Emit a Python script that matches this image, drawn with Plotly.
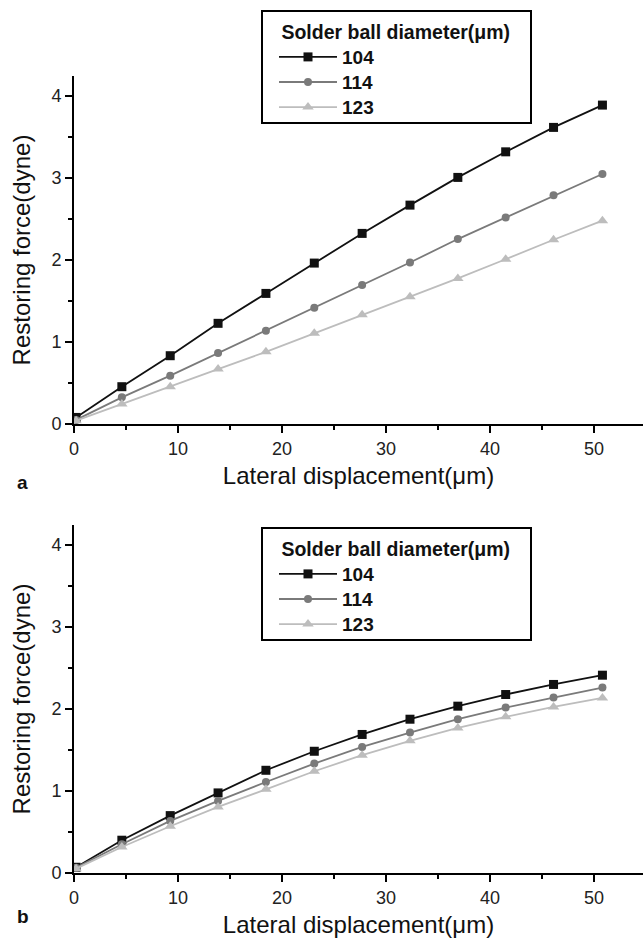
import plotly.graph_objects as go
from plotly.subplots import make_subplots

x_disp = [0.2, 4.6, 9.25, 13.85, 18.45, 23.1, 27.7, 32.3, 36.9, 41.5, 46.1, 50.8]
series_names = ["104", "114", "123"]

force_a_104 = [0.08, 0.455, 0.833, 1.228, 1.593, 1.963, 2.325, 2.67, 3.008, 3.32, 3.618, 3.89]
force_a_114 = [0.05, 0.325, 0.59, 0.866, 1.138, 1.419, 1.695, 1.97, 2.256, 2.52, 2.79, 3.05]
force_a_123 = [0.04, 0.245, 0.455, 0.67, 0.88, 1.106, 1.333, 1.553, 1.776, 2.01, 2.248, 2.48]

force_b_104 = [0.07, 0.40, 0.70, 0.977, 1.253, 1.485, 1.69, 1.876, 2.035, 2.177, 2.30, 2.413]
force_b_114 = [0.065, 0.35, 0.635, 0.879, 1.11, 1.335, 1.538, 1.713, 1.876, 2.018, 2.14, 2.262]
force_b_123 = [0.053, 0.317, 0.57, 0.806, 1.021, 1.241, 1.437, 1.612, 1.77, 1.905, 2.026, 2.136]

colors = ["#111111", "#7a7a7a", "#bdbdbd"]
symbols = ["square", "circle", "triangle-up"]
msizes = [9, 8, 10]

W, H = 643, 939
ML, MR, MT, MB = 74, 0, 76, 66
X_AXIS_A, X_AXIS_B, TOP_B = 424, 873, 525
plot_h = H - MT - MB
plot_w = W - ML - MR
top_dom = [(X_AXIS_B - X_AXIS_A) / plot_h, 1.0]
bot_dom = [0.0, (X_AXIS_B - TOP_B) / plot_h]


def px_x(px):
    return (px - ML) / plot_w


def px_y(py):
    return (X_AXIS_B - py) / plot_h


fig = make_subplots(rows=2, cols=1)

font_fam = "Liberation Sans, Arial, sans-serif"

for row, data, leg in [(1, [force_a_104, force_a_114, force_a_123], "legend"),
                       (2, [force_b_104, force_b_114, force_b_123], "legend2")]:
    for i, name in enumerate(series_names):
        fig.add_trace(go.Scatter(
            x=x_disp, y=data[i], mode="lines+markers",
            name='<span style="font-size:19px"><b>' + name + '</b></span>',
            line=dict(color=colors[i], width=1.8),
            marker=dict(symbol=symbols[i], size=msizes[i], color=colors[i]),
            legend=leg, showlegend=True,
        ), row=row, col=1)

axis_common = dict(
    showline=True, linecolor="black", linewidth=2, showgrid=False, zeroline=False,
    ticks="outside", ticklen=7, tickwidth=1.5, tickcolor="black",
    tickfont=dict(family=font_fam, size=18, color="#222"),
)
xaxis_common = dict(axis_common, range=[0, 54.7], tickvals=[0, 10, 20, 30, 40, 50],
                    minor=dict(ticks="outside", ticklen=4, tickwidth=1.5, tickcolor="black",
                               tickvals=[5, 15, 25, 35, 45]),
                    title=dict(text="Lateral displacement(μm)",
                               font=dict(family=font_fam, size=24, color="#111"), standoff=10))
yaxis_common = dict(axis_common, range=[0, 4.245], tickvals=[0, 1, 2, 3, 4],
                    minor=dict(ticks="outside", ticklen=4, tickwidth=1.5, tickcolor="black",
                               tickvals=[0.5, 1.5, 2.5, 3.5]),
                    title=dict(text="Restoring force(dyne)",
                               font=dict(family=font_fam, size=24, color="#111"), standoff=14))

fig.update_xaxes(**xaxis_common)
fig.update_yaxes(**yaxis_common)
fig.update_layout(xaxis=dict(domain=[0, 1]), yaxis=dict(domain=top_dom),
                  xaxis2=dict(domain=[0, 1]), yaxis2=dict(domain=bot_dom))

legend_common = dict(
    bgcolor="rgba(0,0,0,0)", borderwidth=0,
    font=dict(family=font_fam, size=17, color="#111"),
    title=dict(text="&nbsp;<b>Solder ball diameter(μm)</b>", font=dict(family=font_fam, size=19.5, color="#111")),
    itemwidth=58, tracegroupgap=0, xanchor="left", yanchor="top", xref="paper", yref="paper",
)
fig.update_layout(
    legend=dict(legend_common, x=px_x(274), y=px_y(14)),
    legend2=dict(legend_common, x=px_x(274), y=px_y(531)),
)

# legend frames
for top, bottom in [(11, 123), (528, 640)]:
    fig.add_shape(type="rect", xref="paper", yref="paper",
                  x0=px_x(262), x1=px_x(531), y0=px_y(bottom), y1=px_y(top),
                  line=dict(color="black", width=2), fillcolor="rgba(0,0,0,0)", layer="above")

for label, lx, ly in [("<b>a</b>", 15, 482), ("<b>b</b>", 15, 929)]:
    fig.add_annotation(text=label, x=px_x(lx), y=px_y(ly), xref="paper", yref="paper",
                       showarrow=False, font=dict(family=font_fam, size=19, color="#111"))

fig.update_layout(
    width=W, height=H, margin=dict(l=ML, r=MR, t=MT, b=MB),
    paper_bgcolor="white", plot_bgcolor="white",
)

fig.write_html("out.html")
